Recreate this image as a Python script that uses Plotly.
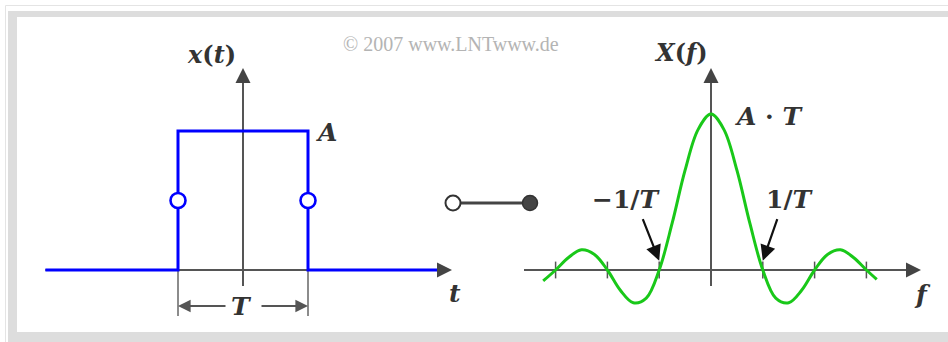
import plotly.graph_objects as go

W, H = 948, 342

# Rectangular pulse x(t): time in units of T, amplitude in units of A
A = 1.0
T = 1.0
t_line = [-1.52, -T / 2, -T / 2, T / 2, T / 2, 1.5]
x_line = [0, 0, A, A, 0, 0]
t_jump = [-T / 2, T / 2]
x_jump = [A / 2, A / 2]

# Spectrum X(f): frequency in units of 1/T, amplitude in units of A*T
f_pts = [-3.24, -3.0, -2.75, -2.5, -2.25, -2.0, -1.75, -1.5, -1.25, -1.0, -0.75, -0.5, -0.25, 0.0,
         0.25, 0.5, 0.75, 1.0, 1.25, 1.5, 1.75, 2.0, 2.25, 2.5, 2.75, 3.0, 3.2]
X_pts = [-0.07, 0.0, 0.08, 0.13, 0.10, 0.0, -0.13, -0.21, -0.18, 0.0, 0.30, 0.64, 0.90, 1.0,
         0.90, 0.64, 0.30, 0.0, -0.18, -0.21, -0.13, 0.0, 0.10, 0.13, 0.08, 0.0, -0.06]
f_ticks = [-3, -2, -1, 1, 2, 3]

AXIS = "#555555"
TXT = "#333333"
BLUE = "#0000ff"
GREEN = "#19c819"
SERIF = "DejaVu Serif, Liberation Serif, serif"
COPY_FONT = "Liberation Serif, Times New Roman, serif"


def px(x):
    return x / W


def py(y):
    return 1 - y / H


def xrange_for(dom, px0, s):
    return [(dom[0] - px0) / s, (dom[1] - px0) / s]


def yrange_for(dom, py0, s):
    # dom = (top pixel, bottom pixel)
    return [(py0 - dom[1]) / s, (py0 - dom[0]) / s]


# pixel layout of the two panels
L_XDOM, L_X0, L_SX = (20, 470), 243.0, 130.0
L_YDOM, L_Y0, L_SY = (30, 330), 270.0, 139.0
R_XDOM, R_X0, R_SX = (500, 940), 711.0, 51.8
R_YDOM, R_Y0, R_SY = (30, 330), 270.0, 156.0

t_tip = (452 - L_X0) / L_SX
xl_top = (L_Y0 - 68) / L_SY
xl_bot = (L_Y0 - 286) / L_SY
f_start = (524 - R_X0) / R_SX
f_tip = (921 - R_X0) / R_SX
Xr_top = (R_Y0 - 68) / R_SY
Xr_bot = (R_Y0 - 286) / R_SY
dim_low = (L_Y0 - 316) / L_SY
dim_y = (L_Y0 - 306) / L_SY

fig = go.Figure()

# left panel: axes
fig.add_trace(go.Scatter(x=[t_line[0], t_tip - 0.05, None, 0, 0],
                         y=[0, 0, None, xl_bot, xl_top - 0.05],
                         mode="lines", line=dict(color=AXIS, width=2),
                         xaxis="x", yaxis="y", hoverinfo="skip"))
# dimension extension lines
fig.add_trace(go.Scatter(x=[t_jump[0], t_jump[0], None, t_jump[1], t_jump[1]],
                         y=[0, dim_low, None, 0, dim_low],
                         mode="lines", line=dict(color="#666666", width=1.5),
                         xaxis="x", yaxis="y", hoverinfo="skip"))
# pulse
fig.add_trace(go.Scatter(x=t_line, y=x_line, mode="lines",
                         line=dict(color=BLUE, width=3), xaxis="x", yaxis="y",
                         hoverinfo="skip"))
fig.add_trace(go.Scatter(x=t_jump, y=x_jump, mode="markers",
                         marker=dict(symbol="circle", size=15, color="white",
                                     line=dict(color=BLUE, width=2.6)),
                         xaxis="x", yaxis="y", hoverinfo="skip"))

# right panel: axes
fig.add_trace(go.Scatter(x=[f_start, f_tip - 0.2, None, 0, 0],
                         y=[0, 0, None, Xr_bot, Xr_top - 0.05],
                         mode="lines", line=dict(color=AXIS, width=2),
                         xaxis="x2", yaxis="y2", hoverinfo="skip"))
fig.add_trace(go.Scatter(x=f_ticks, y=[0] * len(f_ticks), mode="markers",
                         marker=dict(symbol="line-ns", size=12,
                                     line=dict(color=AXIS, width=1.5)),
                         xaxis="x2", yaxis="y2", hoverinfo="skip"))
fig.add_trace(go.Scatter(x=f_pts, y=X_pts, mode="lines",
                         line=dict(color=GREEN, width=3, shape="spline", smoothing=1.0),
                         xaxis="x2", yaxis="y2", hoverinfo="skip"))

ann = []


def head(x, y, ax, ay, xr, yr, color=AXIS, width=2, size=1.5):
    ann.append(dict(x=x, y=y, xref=xr, yref=yr, ax=ax, ay=ay, text="",
                    showarrow=True, arrowhead=2, arrowsize=size,
                    arrowwidth=width, arrowcolor=color, standoff=0))


# axis arrowheads
head(t_tip, 0, -15, 0, "x", "y", color="#444444")
head(0, xl_top, 0, 15, "x", "y", color="#444444")
head(f_tip, 0, -15, 0, "x2", "y2", color="#444444")
head(0, Xr_top, 0, 15, "x2", "y2", color="#444444")
# dimension arrows for T
head(t_jump[0], dim_y, 49, 0, "x", "y", color="#555555", width=1.8, size=1.4)
head(t_jump[1], dim_y, -48, 0, "x", "y", color="#555555", width=1.8, size=1.4)
# arrows pointing at the first zeros of X(f)
head(-1 / T, 0.06, -17, -43, "x2", "y2", color="#111111", width=2.2, size=1.4)
head(1 / T, 0.06, 15, -43, "x2", "y2", color="#111111", width=2.2, size=1.4)


def label(text, x, y, size=22, color=TXT, family=SERIF):
    ann.append(dict(x=px(x), y=py(y), xref="paper", yref="paper", text=text,
                    showarrow=False, font=dict(family=family, size=size, color=color),
                    xanchor="center", yanchor="middle"))


label("<b><i>x</i>(<i>t</i>)</b>", 211, 54, size=24)
label("<b><i>A</i></b>", 326, 133, size=25)
label("<b><i>t</i></b>", 455, 293, size=25)
label("<b><i>T</i></b>", 241, 306, size=25)
label("<b><i>X</i>(<i>f</i>)</b>", 681, 53, size=24)
label("<b><i>A</i> · <i>T</i></b>", 769, 116, size=25)
label("<b>−1/<i>T</i></b>", 626, 199, size=25)
label("<b>1/<i>T</i></b>", 790, 199, size=25)
label("<b><i>f</i></b>", 922, 294, size=25)
label("© 2007 www.LNTwww.de", 451, 44, size=20, color="#b4b4b4", family=COPY_FONT)

shapes = [
    # frame
    dict(type="rect", xref="paper", yref="paper", x0=px(5.5), y0=py(5.5), x1=px(1000), y1=py(400),
         line=dict(color="#e4e4e4", width=1), fillcolor="rgba(0,0,0,0)", layer="below"),
    dict(type="rect", xref="paper", yref="paper", x0=px(8), y0=py(11), x1=px(1000), y1=py(400),
         line=dict(width=0), fillcolor="#dddddd", layer="below"),
    dict(type="rect", xref="paper", yref="paper", x0=px(17), y0=py(17), x1=px(1000), y1=py(332),
         line=dict(width=0), fillcolor="white", layer="below"),
    # correspondence symbol
    dict(type="line", xref="paper", yref="paper", x0=px(453), y0=py(203), x1=px(530), y1=py(203),
         line=dict(color="#444444", width=3)),
    dict(type="circle", xref="paper", yref="paper", x0=px(445.5), y0=py(195.5), x1=px(460.5), y1=py(210.5),
         line=dict(color="#333333", width=2), fillcolor="white"),
    dict(type="circle", xref="paper", yref="paper", x0=px(522.5), y0=py(195.5), x1=px(537.5), y1=py(210.5),
         line=dict(color="#333333", width=1.5), fillcolor="#444444"),
]

ax_common = dict(visible=False, showgrid=False, zeroline=False, fixedrange=True)
fig.update_layout(
    width=W, height=H, margin=dict(l=0, r=0, t=0, b=0),
    paper_bgcolor="white", plot_bgcolor="rgba(0,0,0,0)", showlegend=False,
    xaxis=dict(domain=[px(L_XDOM[0]), px(L_XDOM[1])],
               range=xrange_for(L_XDOM, L_X0, L_SX), **ax_common),
    yaxis=dict(domain=[py(L_YDOM[1]), py(L_YDOM[0])],
               range=yrange_for(L_YDOM, L_Y0, L_SY), **ax_common),
    xaxis2=dict(domain=[px(R_XDOM[0]), px(R_XDOM[1])],
                range=xrange_for(R_XDOM, R_X0, R_SX), anchor="y2", **ax_common),
    yaxis2=dict(domain=[py(R_YDOM[1]), py(R_YDOM[0])],
                range=yrange_for(R_YDOM, R_Y0, R_SY), anchor="x2", **ax_common),
    annotations=ann, shapes=shapes,
)

fig.write_html("out.html")
